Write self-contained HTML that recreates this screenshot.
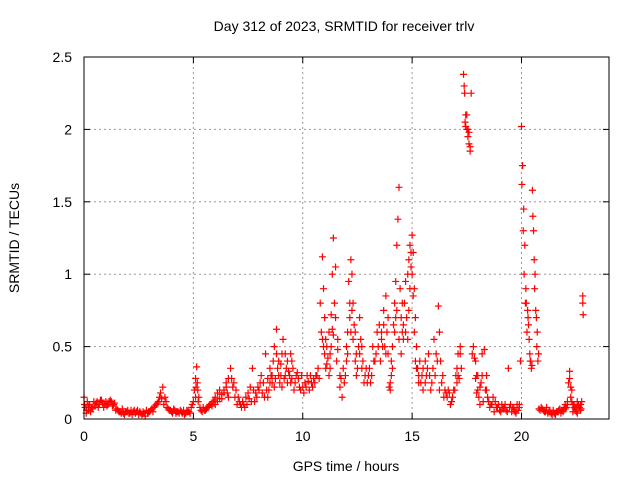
<!DOCTYPE html>
<html><head><meta charset="utf-8"><style>
body{margin:0;background:#fff}
svg{display:block;font-family:"Liberation Sans",sans-serif}
</style></head><body>
<svg id="chart" width="640" height="480">
<text x="344" y="31" font-size="14" text-anchor="middle">Day 312 of 2023, SRMTID for receiver trlv</text>
<text x="346" y="471" font-size="14" text-anchor="middle">GPS time / hours</text>
<text transform="translate(19,238) rotate(-90)" font-size="14" text-anchor="middle">SRMTID / TECUs</text>
<g id="grid"></g><g id="axes"></g><g id="marks"></g>
<rect x="84" y="57" width="525" height="362" fill="none" stroke="#000"/>
</svg>
<script>
const xTicks=[0,5,10,15,20];
const yTicks=[0,0.5,1,1.5,2,2.5];
const yTickLabels=["0","0.5","1","1.5","2","2.5"];
const times=[0,0.05,0.1,0.15,0.2,0.3,0.4,0.5,0.6,0.7,0.8,0.9,1.0,1.1,1.2,1.3,1.4,1.5,1.6,1.8,2.0,2.2,2.4,2.6,2.8,3.0,3.2,3.4,3.5,3.6,3.7,3.8,4.0,4.2,4.4,4.6,4.8,5.0,5.1,5.15,5.2,5.3,5.4,5.6,5.8,6.0,6.2,6.4,6.6,6.7,6.8,7.0,7.2,7.4,7.6,7.7,7.8,8.0,8.1,8.3,8.4,8.5,8.6,8.7,8.8,8.9,9.0,9.1,9.2,9.3,9.4,9.5,9.6,9.8,10.0,10.2,10.4,10.6,10.8,10.9,11.0,11.1,11.2,11.3,11.4,11.5,11.6,11.7,11.8,12.0,12.1,12.2,12.3,12.4,12.5,12.6,12.7,12.8,13.0,13.2,13.4,13.6,13.7,13.8,13.9,14.0,14.1,14.2,14.3,14.35,14.4,14.45,14.5,14.6,14.7,14.8,14.9,15.0,15.1,15.2,15.3,15.5,15.6,15.8,16.0,16.2,16.3,16.5,16.6,16.8,17.0,17.1,17.2,17.35,17.4,17.45,17.5,17.6,17.65,17.7,17.8,17.9,18.0,18.1,18.2,18.3,18.4,18.5,18.7,18.9,19.1,19.3,19.4,19.5,19.7,19.9,19.95,20.0,20.05,20.1,20.15,20.2,20.3,20.4,20.5,20.55,20.6,20.7,20.8,21.0,21.2,21.4,21.6,21.8,22.0,22.1,22.2,22.3,22.4,22.5,22.6,22.7,22.75,22.8,22.82,22.8];
const tecu=[0.15,0.08,0.04,0.12,0.06,0.05,0.07,0.09,0.12,0.1,0.13,0.08,0.12,0.1,0.13,0.09,0.11,0.07,0.05,0.04,0.06,0.03,0.05,0.04,0.02,0.05,0.08,0.12,0.18,0.22,0.15,0.08,0.05,0.04,0.06,0.03,0.05,0.12,0.28,0.36,0.2,0.08,0.05,0.07,0.1,0.15,0.2,0.18,0.28,0.35,0.22,0.1,0.08,0.15,0.22,0.35,0.12,0.2,0.3,0.45,0.15,0.25,0.3,0.5,0.62,0.4,0.3,0.55,0.45,0.25,0.3,0.4,0.2,0.28,0.22,0.3,0.25,0.3,0.8,1.12,0.7,0.5,0.6,0.72,1.25,1.05,0.55,0.3,0.15,0.4,0.95,1.1,0.8,0.6,0.35,0.7,0.5,0.25,0.3,0.5,0.6,0.55,0.75,0.85,0.45,0.25,0.5,0.8,1.2,1.38,1.6,0.9,0.7,0.55,0.95,1.0,1.2,1.27,0.9,0.5,0.3,0.2,0.4,0.3,0.55,0.78,0.4,0.2,0.15,0.12,0.3,0.45,0.5,2.38,2.25,2.1,2.0,1.9,1.85,2.25,0.5,0.4,0.2,0.1,0.45,0.48,0.3,0.12,0.15,0.08,0.1,0.06,0.35,0.1,0.05,0.1,0.4,2.02,1.75,1.45,1.2,0.9,0.7,0.4,1.58,1.3,0.9,0.5,0.07,0.06,0.04,0.03,0.05,0.04,0.07,0.12,0.33,0.2,0.08,0.05,0.1,0.06,0.12,0.85,0.72,0.8];
const times2=[0.25,0.45,0.65,0.85,1.05,1.25,1.45,1.7,1.9,2.1,2.3,2.5,2.7,2.9,3.1,3.3,3.45,3.65,3.9,4.1,4.3,4.5,4.7,4.9,5.05,5.25,5.5,5.7,5.9,6.1,6.3,6.5,6.9,7.1,7.3,7.5,7.9,8.2,8.45,8.65,8.85,9.05,9.25,9.45,9.7,9.9,10.1,10.3,10.5,10.7,10.95,11.05,11.25,11.35,11.45,11.55,11.9,12.05,12.15,12.25,12.35,12.45,12.65,12.9,13.1,13.3,13.5,13.65,13.85,14.05,14.15,14.25,14.55,14.65,14.75,14.85,14.95,15.05,15.15,15.25,15.4,15.7,15.9,16.1,16.25,16.4,16.7,16.9,17.05,17.15,17.38,17.42,17.55,17.75,17.95,18.15,18.35,18.6,18.8,19.0,19.2,19.6,19.8,20.02,20.08,20.12,20.18,20.25,20.35,20.45,20.52,20.58,20.65,20.75,20.9,21.1,21.3,21.5,21.7,21.9,22.05,22.15,22.25,22.35,22.45,22.55,22.65];
const tecu2=[0.1,0.12,0.08,0.11,0.09,0.12,0.06,0.04,0.05,0.04,0.06,0.03,0.05,0.04,0.07,0.1,0.15,0.1,0.06,0.07,0.05,0.04,0.06,0.08,0.2,0.15,0.06,0.09,0.12,0.18,0.14,0.25,0.15,0.12,0.1,0.18,0.15,0.25,0.2,0.4,0.35,0.45,0.35,0.25,0.3,0.2,0.25,0.2,0.28,0.35,0.9,0.55,0.45,1.0,0.8,0.4,0.25,0.6,0.8,1.0,0.65,0.45,0.55,0.35,0.25,0.4,0.65,0.5,0.6,0.3,0.65,0.95,0.6,0.8,0.7,1.1,1.05,1.15,0.7,0.35,0.25,0.35,0.25,0.45,0.6,0.3,0.18,0.2,0.35,0.28,2.3,2.05,1.95,0.45,0.3,0.25,0.2,0.1,0.12,0.06,0.08,0.08,0.1,1.62,1.3,1.0,0.8,0.6,0.55,0.35,1.4,1.1,0.75,0.4,0.08,0.05,0.06,0.04,0.06,0.05,0.08,0.25,0.15,0.1,0.07,0.12,0.08];
const times3=[0.02,0.12,0.22,0.35,0.55,0.75,0.95,1.15,1.35,1.55,1.65,1.75,1.85,1.95,2.05,2.15,2.25,2.35,2.45,2.55,2.65,2.75,2.85,2.95,3.05,3.15,3.25,3.35,3.55,3.75,3.85,3.95,4.05,4.15,4.25,4.35,4.45,4.55,4.65,4.75,4.85,4.95,5.1,5.12,5.18,5.22,5.35,5.45,5.55,5.65,5.75,5.85,5.95,6.0,6.1,6.2,6.3,6.4,6.5,6.55,6.6,6.75,6.85,6.95,7.05,7.15,7.25,7.35,7.45,7.55,7.65,7.75,7.85,7.95,8.05,8.15,8.25,8.35,8.4,8.5,8.55,8.6,8.7,8.75,8.8,8.9,8.95,9.0,9.05,9.15,9.2,9.3,9.35,9.45,9.5,9.55,9.65,9.75,9.85,9.95,10.05,10.15,10.25,10.35,10.45,10.55,10.65,10.75,10.85,10.9,10.95,11.0,11.05,11.1,11.15,11.2,11.25,11.3,11.35,11.4,11.5,11.6,11.7,11.75,11.85,11.95,12.0,12.05,12.15,12.2,12.25,12.3,12.4,12.45,12.55,12.6,12.7,12.75,12.85,12.95,13.05,13.15,13.25,13.35,13.45,13.55,13.6,13.7,13.75,13.8,13.9,13.95,14.0,14.05,14.1,14.2,14.25,14.3,14.4,14.5,14.55,14.6,14.7,14.8,14.85,14.9,14.95,15.0,15.05,15.1,15.15,15.2,15.3,15.35,15.45,15.5,15.6,15.65,15.75,15.85,15.95,16.05,16.15,16.25,16.35,16.45,16.55,16.65,16.75,16.85,16.95,17.05,17.1,17.2,17.25,17.45,17.5,17.55,17.6,17.65,17.85,17.9,17.95,18.0,18.05,18.1,18.2,18.25,18.4,18.45,18.55,18.65,18.75,18.85,18.95,19.05,19.15,19.25,19.35,19.45,19.55,19.65,19.75,19.85,19.9,20.22,20.28,20.32,20.38,20.42,20.48,20.62,20.68,20.72,20.78,20.85,20.95,21.05,21.15,21.25,21.35,21.45,21.55,21.65,21.75,21.85,21.95,22.0,22.1,22.2,22.25,22.3,22.35,22.4,22.5,22.55,22.6,22.7,22.72];
const tecu3=[0.1,0.06,0.09,0.08,0.11,0.13,0.1,0.12,0.1,0.06,0.05,0.07,0.03,0.05,0.04,0.06,0.05,0.04,0.06,0.05,0.03,0.04,0.06,0.05,0.06,0.05,0.09,0.11,0.14,0.12,0.07,0.06,0.04,0.06,0.05,0.04,0.05,0.06,0.04,0.05,0.04,0.1,0.15,0.22,0.25,0.12,0.06,0.08,0.06,0.08,0.1,0.09,0.13,0.1,0.12,0.14,0.17,0.2,0.22,0.18,0.15,0.28,0.25,0.2,0.15,0.1,0.12,0.08,0.1,0.14,0.12,0.2,0.18,0.22,0.25,0.18,0.15,0.2,0.28,0.35,0.3,0.25,0.22,0.28,0.45,0.3,0.25,0.38,0.22,0.28,0.3,0.4,0.33,0.45,0.28,0.35,0.25,0.32,0.22,0.3,0.18,0.22,0.26,0.3,0.22,0.25,0.3,0.28,0.6,0.55,0.5,0.45,0.35,0.38,0.42,0.3,0.35,0.5,0.62,0.58,0.7,0.48,0.22,0.28,0.35,0.3,0.5,0.45,0.7,0.6,0.75,0.55,0.4,0.3,0.5,0.45,0.35,0.4,0.3,0.25,0.35,0.3,0.4,0.45,0.5,0.4,0.6,0.65,0.5,0.45,0.7,0.22,0.2,0.4,0.35,0.6,0.7,0.75,0.55,0.45,0.8,0.65,0.6,0.55,0.75,0.9,1.15,1.0,0.85,0.6,0.4,0.35,0.25,0.4,0.3,0.35,0.25,0.3,0.45,0.2,0.35,0.3,0.4,0.2,0.25,0.15,0.18,0.2,0.1,0.15,0.2,0.25,0.3,0.45,0.35,2.02,2.1,2.0,1.98,1.88,0.42,0.28,0.18,0.3,0.15,0.22,0.3,0.12,0.2,0.15,0.08,0.1,0.05,0.08,0.1,0.05,0.07,0.1,0.05,0.08,0.05,0.07,0.04,0.06,0.08,0.8,0.75,0.65,0.45,0.4,0.37,1.0,0.7,0.6,0.45,0.06,0.07,0.05,0.08,0.05,0.04,0.06,0.03,0.05,0.07,0.06,0.08,0.1,0.1,0.28,0.22,0.12,0.05,0.1,0.08,0.04,0.09,0.1,0.07];
const X0=84,X1=609,Y0=419,Y1=57,XMAX=24,YMAX=2.5;
const sx=t=>X0+(X1-X0)*t/XMAX;
const sy=v=>Y0-(Y0-Y1)*v/YMAX;
const NS="http://www.w3.org/2000/svg";
const grid=document.getElementById('grid'),axes=document.getElementById('axes'),marks=document.getElementById('marks');
function mk(tag,attrs,parent){const e=document.createElementNS(NS,tag);for(const k in attrs)e.setAttribute(k,attrs[k]);parent.appendChild(e);return e;}
xTicks.forEach(t=>{
  const x=sx(t);
  if(t>0){const g=mk('line',{x1:x,x2:x,y1:Y0,y2:Y1,stroke:'#999','stroke-dasharray':'2,3'},grid);
  
  }
  mk('line',{x1:x,x2:x,y1:Y0,y2:Y0-6,stroke:'#000'},axes);
  mk('line',{x1:x,x2:x,y1:Y1,y2:Y1+6,stroke:'#000'},axes);
  const l=mk('text',{x:x,y:Y0+22,'font-size':14,'text-anchor':'middle'},axes);l.textContent=t;
  
  
});
yTicks.forEach((v,i)=>{
  const y=sy(v);
  if(v>0&&v<YMAX){const g=mk('line',{x1:X0,x2:X1,y1:y,y2:y,stroke:'#999','stroke-dasharray':'2,3'},grid);
  
  }
  mk('line',{x1:X0,x2:X0+6,y1:y,y2:y,stroke:'#000'},axes);
  mk('line',{x1:X1,x2:X1-6,y1:y,y2:y,stroke:'#000'},axes);
  const l=mk('text',{x:X0-12,y:y+5,'font-size':14,'text-anchor':'end'},axes);l.textContent=yTickLabels[i];
  
  
});
function plot(ts,vs){
  ts.forEach((t,i)=>{
    const x=sx(t),y=sy(vs[i]);
    const p=mk('path',{d:`M${x-3.5},${y}h7M${x},${y-3.5}v7`,stroke:'#f00','stroke-width':1.2,fill:'none'},marks);
    
    
  });
}
plot(times,tecu);plot(times2,tecu2);plot(times3,tecu3);
</script>
</body></html>
